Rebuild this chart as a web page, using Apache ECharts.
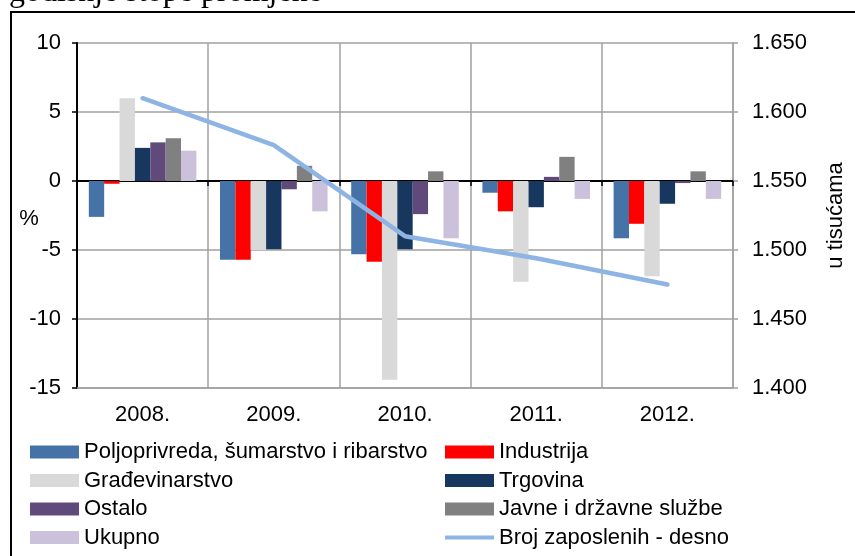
<!DOCTYPE html>
<html>
<head>
<meta charset="utf-8">
<script src="https://cdn.jsdelivr.net/npm/echarts@6/dist/echarts.min.js"></script>
<style>
html, body { margin:0; padding:0; background:#fff; }
#main { width:855px; height:556px; }
</style>
</head>
<body>
<div id="main"></div>
<script>
var years = ['2008.', '2009.', '2010.', '2011.', '2012.'];
var poljoprivreda = [-2.6, -5.7, -5.3, -0.85, -4.15];
var industrija = [-0.2, -5.7, -5.85, -2.2, -3.1];
var gradjevinarstvo = [6.0, -5.0, -14.4, -7.3, -6.9];
var trgovina = [2.4, -4.95, -4.95, -1.9, -1.65];
var ostalo = [2.8, -0.6, -2.4, 0.3, -0.15];
var javne = [3.1, 1.1, 0.7, 1.75, 0.7];
var ukupno = [2.2, -2.2, -4.15, -1.3, -1.3];
var brojZaposlenih = [1610, 1576, 1510, 1494, 1475];
var leftTicks = [-15, -10, -5, 0, 5, 10];
var rightTicks = [1400, 1450, 1500, 1550, 1600, 1650];

var FONT = 'Liberation Sans, Arial, sans-serif';
var GRIDC = '#a0a0a0';
// thin horizontal stroke inside the 49x13 legend box
var LINE_ICON = 'path://M0,0M0,4.6L49,4.6L49,8.4L0,8.4ZM49,13';

function bar(name, data, color) {
    return {
        name: name, type: 'bar', data: data,
        barGap: '0%', barCategoryGap: '18%',
        itemStyle: {color: color}
    };
}

var chart = echarts.init(document.getElementById('main'));

var legendBase = {
    orient: 'vertical', top: 441, padding: 0,
    itemWidth: 49, itemHeight: 13, itemGap: 6.5,
    textStyle: {fontFamily: FONT, fontSize: 22, color: '#000', lineHeight: 22}
};

var option = {
    animation: false,
    grid: {left: 77, right: 117, top: 43, bottom: 168},
    graphic: [
        {type: 'rect', shape: {x: 11, y: 12, width: 900, height: 600},
         style: {fill: 'none', stroke: '#000', lineWidth: 2}},
        {type: 'text', left: 9, top: -23,
         style: {text: 'godišnje stope promjene', font: '32px "Liberation Serif", "Times New Roman", serif', fill: '#000'}},
        // left axis unit
        {type: 'text', x: 29, y: 219,
         style: {text: '%', align: 'center', verticalAlign: 'middle', font: '22px ' + FONT, fill: '#000'}}
    ],
    legend: [
        Object.assign({}, legendBase, {
            left: 30, icon: 'rect',
            data: ['Poljoprivreda, šumarstvo i ribarstvo', 'Građevinarstvo', 'Ostalo', 'Ukupno']
        }),
        Object.assign({}, legendBase, {
            left: 445,
            data: [{name: 'Industrija', icon: 'rect'}, {name: 'Trgovina', icon: 'rect'},
                   {name: 'Javne i državne službe', icon: 'rect'},
                   {name: 'Broj zaposlenih - desno', icon: LINE_ICON}]
        })
    ],
    xAxis: [{
        type: 'category', data: years, position: 'bottom',
        axisLine: {onZero: false, lineStyle: {color: GRIDC, width: 1.5}},
        axisTick: {show: false},
        axisLabel: {fontFamily: FONT, fontSize: 22, color: '#000', margin: 16},
        splitLine: {show: true, lineStyle: {color: GRIDC, width: 1.5}}
    }, {
        type: 'category', data: years, position: 'top',
        axisLine: {onZero: true, onZeroAxisIndex: 0, lineStyle: {color: '#000', width: 2}},
        axisTick: {show: true, inside: true, length: 5, lineStyle: {color: '#000', width: 1.5}},
        axisLabel: {show: false},
        splitLine: {show: false}
    }],
    yAxis: [{
        type: 'value',
        min: leftTicks[0], max: leftTicks[leftTicks.length - 1], interval: leftTicks[1] - leftTicks[0],
        axisLine: {show: true, lineStyle: {color: '#000', width: 2}},
        axisTick: {show: true, length: 5, lineStyle: {color: '#000', width: 1.5}},
        axisLabel: {fontFamily: FONT, fontSize: 22, color: '#000', margin: 16},
        splitLine: {show: true, lineStyle: {color: GRIDC, width: 1.5}}
    }, {
        type: 'value', position: 'right',
        min: rightTicks[0], max: rightTicks[rightTicks.length - 1], interval: rightTicks[1] - rightTicks[0],
        name: 'u tisućama', nameLocation: 'middle', nameRotate: 90, nameGap: 92,
        nameTextStyle: {fontFamily: FONT, fontSize: 22, color: '#000'},
        axisLine: {show: true, lineStyle: {color: GRIDC, width: 1.5}},
        axisTick: {show: true, length: 5, lineStyle: {color: GRIDC, width: 1.5}},
        axisLabel: {fontFamily: FONT, fontSize: 22, color: '#000', margin: 19,
            formatter: function (v) { return (v / 1000).toFixed(3); }},
        splitLine: {show: false}
    }],
    series: [
        bar('Poljoprivreda, šumarstvo i ribarstvo', poljoprivreda, '#4573a7'),
        bar('Industrija', industrija, '#ff0000'),
        bar('Građevinarstvo', gradjevinarstvo, '#d9d9d9'),
        bar('Trgovina', trgovina, '#17375e'),
        bar('Ostalo', ostalo, '#604a7b'),
        bar('Javne i državne službe', javne, '#808080'),
        bar('Ukupno', ukupno, '#ccc1da'),
        {
            name: 'Broj zaposlenih - desno', type: 'line', yAxisIndex: 1,
            data: brojZaposlenih, symbol: 'none', z: 5,
            lineStyle: {color: '#8db4e2', width: 4.5, cap: 'round'},
            itemStyle: {color: '#8db4e2'}
        }
    ]
};
chart.setOption(option);
</script>
</body>
</html>
